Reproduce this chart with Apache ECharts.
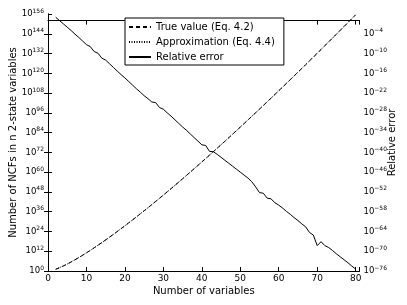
<!DOCTYPE html>
<html>
<head>
<meta charset="utf-8">
<script src="https://cdn.jsdelivr.net/npm/echarts@6/dist/echarts.min.js"></script>
<style>html,body{margin:0;padding:0;background:#fff;}#c{width:407px;height:305px;}</style>
</head>
<body>
<div id="c"></div>
<script>
// Number of variables
const nVars = [2,3,4,5,6,7,8,9,10,11,12,13,14,15,16,17,18,19,20,21,22,23,24,25,26,27,28,29,30,31,32,33,34,35,36,37,38,39,40,41,42,43,44,45,46,47,48,49,50,51,52,53,54,55,56,57,58,59,60,61,62,63,64,65,66,67,68,69,70,71,72,73,74,75,76,77,78,79,80];
// log10 of number of NCFs (true value, Eq. 4.2)
const trueLog10 = [1.08,2.02,3.08,4.24,5.48,6.78,8.15,9.56,11.02,12.52,
  14.06,15.64,17.24,18.88,20.54,22.23,23.95,25.69,27.45,29.23,
  31.03,32.86,34.70,36.55,38.43,40.32,42.23,44.15,46.09,48.04,
  50.00,51.98,53.98,55.98,58.00,60.02,62.07,64.12,66.18,68.25,
  70.33,72.43,74.53,76.65,78.77,80.90,83.04,85.19,87.35,89.52,
  91.70,93.88,96.07,98.27,100.48,102.70,104.92,107.15,109.39,111.64,
  113.89,116.15,118.41,120.69,122.97,125.25,127.55,129.85,132.15,134.46,
  136.78,139.10,141.43,143.77,146.11,148.45,150.81,153.17,155.53];
// log10 of approximation (Eq. 4.4) - indistinguishable from true value in the plot
const approxLog10 = [1.08,2.02,3.08,4.24,5.48,6.78,8.15,9.56,11.02,12.52,
  14.06,15.64,17.24,18.88,20.54,22.23,23.95,25.69,27.45,29.23,
  31.03,32.86,34.70,36.55,38.43,40.32,42.23,44.15,46.09,48.04,
  50.00,51.98,53.98,55.98,58.00,60.02,62.07,64.12,66.18,68.25,
  70.33,72.43,74.53,76.65,78.77,80.90,83.04,85.19,87.35,89.52,
  91.70,93.88,96.07,98.27,100.48,102.70,104.92,107.15,109.39,111.64,
  113.89,116.15,118.41,120.69,122.97,125.25,127.55,129.85,132.15,134.46,
  136.78,139.10,141.43,143.77,146.11,148.45,150.81,153.17,155.53];
// log10 of relative error
const relErrLog10 = [1.0,0.0,-1.0,-2.0,-3.0,-4.1,-5.1,-6.2,-7.3,-7.9,
  -9.4,-9.9,-11.4,-12.0,-13.1,-14.2,-15.3,-16.4,-17.4,-18.5,
  -19.6,-20.7,-21.7,-22.8,-23.7,-24.7,-24.9,-26.4,-26.9,-28.0,
  -29.0,-30.1,-31.2,-32.3,-33.3,-34.4,-35.5,-36.6,-37.7,-37.9,
  -39.7,-39.8,-40.6,-41.5,-42.4,-43.3,-44.2,-45.1,-46.0,-46.9,
  -47.8,-48.9,-50.5,-52.2,-52.4,-53.9,-54.1,-55.3,-56.0,-56.9,
  -57.9,-58.8,-59.8,-60.7,-61.7,-62.6,-64.3,-65.1,-68.3,-67.1,
  -68.3,-68.9,-69.8,-70.8,-71.7,-72.6,-73.5,-74.5,-75.4];
const xTicks = [0,10,20,30,40,50,60,70,80];
const leftExpTicks = [0,12,24,36,48,60,72,84,96,108,120,132,144,156];
const rightExpTicks = [-76,-70,-64,-58,-52,-46,-40,-34,-28,-22,-16,-10,-4];
const legendNames = ['True value (Eq. 4.2)','Approximation (Eq. 4.4)','Relative error'];

const FONT = 'DejaVu Sans';
const pair = (xs, ys) => xs.map((x, i) => [x, ys[i]]);
const expLabel = v => '{b|10}{s|' + String(v).replace('-', '\u2212') + '}';
const rich = {
  b: {fontSize: 8.5, fontFamily: FONT, color: '#000'},
  s: {fontSize: 6, fontFamily: FONT, color: '#000', padding: [0, 0, 6, 0]}
};

const chart = echarts.init(document.getElementById('c'), null, {renderer: 'canvas'});
chart.setOption({
  backgroundColor: '#fff',
  animation: false,
  grid: {left: 48, right: 47.5, top: 14, bottom: 34, containLabel: false, outerBoundsMode: 'none'},
  legend: {
    left: 125, top: 18, orient: 'vertical',
    data: legendNames,
    itemWidth: 22, itemHeight: 10, itemGap: 5,
    padding: [4, 9, 3, 3],
    borderColor: '#000', borderWidth: 1, backgroundColor: '#fff',
    itemStyle: {opacity: 0},
    textStyle: {fontSize: 10, fontFamily: FONT, color: '#000'}
  },
  xAxis: [{
    type: 'value', min: 0, max: 81, interval: 10,
    name: 'Number of variables', nameLocation: 'middle', nameGap: 15, nameMoveOverlap: false,
    nameTextStyle: {fontSize: 10, fontFamily: FONT, color: '#000'},
    axisLine: {show: true, lineStyle: {color: '#000', width: 1}},
    axisTick: {inside: true, length: 4, lineStyle: {color: '#000'}},
    axisLabel: {fontSize: 9, fontFamily: FONT, color: '#000', margin: 3,
      formatter: v => xTicks.indexOf(v) >= 0 ? String(v) : ''},
    splitLine: {show: false}
  }, {
    type: 'value', min: 0, max: 81, interval: 10, position: 'top',
    axisLine: {show: true, lineStyle: {color: '#000', width: 1}},
    axisTick: {inside: true, length: 4, lineStyle: {color: '#000'}},
    axisLabel: {show: false}, splitLine: {show: false}
  }],
  yAxis: [{
    type: 'value', min: 0, max: 156, interval: 12, position: 'left',
    name: 'Number of NCFs in n 2-state variables', nameLocation: 'middle', nameGap: 30, nameRotate: 90,
    nameMoveOverlap: false,
    nameTextStyle: {fontSize: 10, fontFamily: FONT, color: '#000'},
    axisLine: {show: true, lineStyle: {color: '#000', width: 1}},
    axisTick: {inside: true, length: 4, lineStyle: {color: '#000'}},
    axisLabel: {margin: 4, rich: rich,
      formatter: v => leftExpTicks.indexOf(v) >= 0 ? expLabel(v) : ''},
    splitLine: {show: false}
  }, {
    type: 'value', min: -76, max: 2, interval: 6, position: 'right',
    name: 'Relative error', nameLocation: 'middle', nameGap: 28, nameRotate: 90,
    nameMoveOverlap: false,
    nameTextStyle: {fontSize: 10, fontFamily: FONT, color: '#000'},
    axisLine: {show: true, lineStyle: {color: '#000', width: 1}},
    axisTick: {inside: true, length: 4, lineStyle: {color: '#000'}},
    axisLabel: {margin: 4, rich: rich, showMaxLabel: false,
      formatter: v => rightExpTicks.indexOf(v) >= 0 ? expLabel(v) : ''},
    splitLine: {show: false}
  }],
  series: [{
    name: legendNames[0], type: 'line', yAxisIndex: 0, symbol: 'none',
    data: pair(nVars, trueLog10),
    lineStyle: {color: '#000', width: 1, type: [4, 3]}, itemStyle: {color: '#000'}
  }, {
    name: legendNames[1], type: 'line', yAxisIndex: 0, symbol: 'none',
    data: pair(nVars, approxLog10),
    lineStyle: {color: '#000', width: 1, type: [1, 1.5]}, itemStyle: {color: '#000'}
  }, {
    name: legendNames[2], type: 'line', yAxisIndex: 1, symbol: 'none',
    data: pair(nVars, relErrLog10),
    lineStyle: {color: '#000', width: 1}, itemStyle: {color: '#000'}
  }]
});
</script>
</body>
</html>
